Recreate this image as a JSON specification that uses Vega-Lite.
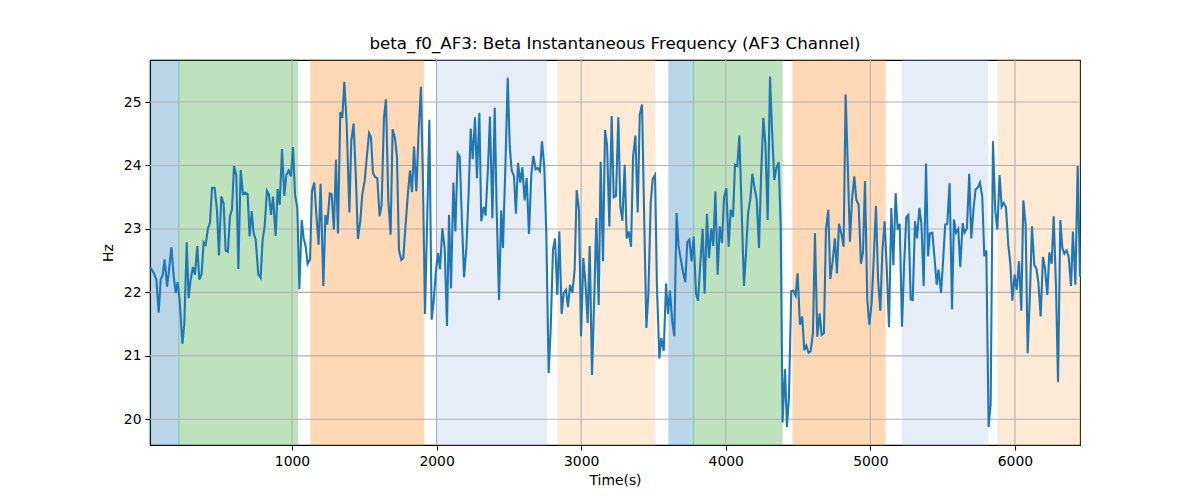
{
  "$schema": "https://vega.github.io/schema/vega-lite/v6.json",
  "width": 930,
  "height": 385,
  "autosize": {"type": "none"},
  "padding": {"left": 150, "top": 60, "right": 120, "bottom": 55},
  "background": "white",
  "title": {"text": "beta_f0_AF3: Beta Instantaneous Frequency (AF3 Channel)", "fontSize": 16.7, "font": "DejaVu Sans", "fontWeight": "normal", "color": "black", "offset": 7, "anchor": "middle"},
  "config": {
    "font": "DejaVu Sans",
    "view": {"stroke": "black", "strokeWidth": 1.1},
    "axis": {"grid": false, "tickColor": "black", "tickSize": 5, "tickWidth": 1.1, "domainColor": "black", "domainWidth": 1.1, "labelFontSize": 13.9, "labelColor": "black", "labelPadding": 4, "titleFontSize": 13.9, "titleFontWeight": "normal", "titleColor": "black", "labelFont": "DejaVu Sans", "titleFont": "DejaVu Sans"}
  },
  "datasets": {
    "bands": [
      {"s": 18, "e": 218, "k": "b"},
      {"s": 218, "e": 1039, "k": "g"},
      {"s": 1131, "e": 1910, "k": "o"},
      {"s": 1998, "e": 2761, "k": "lb"},
      {"s": 2840, "e": 3510, "k": "lo"},
      {"s": 3607, "e": 3778, "k": "b"},
      {"s": 3778, "e": 4389, "k": "g"},
      {"s": 4465, "e": 5101, "k": "o"},
      {"s": 5223, "e": 5811, "k": "lb"},
      {"s": 5883, "e": 6450, "k": "lo"}
    ],
    "xgrid": [{"v": 1000}, {"v": 2000}, {"v": 3000}, {"v": 4000}, {"v": 5000}, {"v": 6000}],
    "ygrid": [{"v": 20}, {"v": 21}, {"v": 22}, {"v": 23}, {"v": 24}, {"v": 25}],
    "line": [
      {"t":18,"hz":22.40},{"t":46,"hz":22.30},{"t":62,"hz":22.20},{"t":78,"hz":21.68},{"t":92,"hz":22.20},{"t":106,"hz":22.28},{"t":119,"hz":22.52},{"t":136,"hz":22.09},{"t":152,"hz":22.41},{"t":166,"hz":22.71},{"t":182,"hz":22.25},{"t":196,"hz":21.99},{"t":209,"hz":22.16},{"t":223,"hz":21.88},{"t":242,"hz":21.19},{"t":255,"hz":21.49},{"t":272,"hz":22.79},{"t":285,"hz":21.91},{"t":299,"hz":22.20},{"t":315,"hz":22.40},{"t":329,"hz":22.28},{"t":345,"hz":22.73},{"t":359,"hz":22.20},{"t":375,"hz":22.29},{"t":389,"hz":22.79},{"t":403,"hz":22.75},{"t":419,"hz":23.01},{"t":433,"hz":23.10},{"t":447,"hz":23.65},{"t":465,"hz":23.65},{"t":481,"hz":23.30},{"t":495,"hz":22.58},{"t":511,"hz":23.51},{"t":527,"hz":23.40},{"t":541,"hz":22.66},{"t":557,"hz":22.64},{"t":571,"hz":23.20},{"t":585,"hz":23.31},{"t":599,"hz":23.99},{"t":615,"hz":23.85},{"t":629,"hz":22.37},{"t":645,"hz":23.93},{"t":661,"hz":23.55},{"t":677,"hz":23.57},{"t":693,"hz":23.55},{"t":707,"hz":22.88},{"t":721,"hz":23.28},{"t":735,"hz":22.93},{"t":749,"hz":22.83},{"t":767,"hz":22.28},{"t":783,"hz":22.23},{"t":797,"hz":22.83},{"t":811,"hz":23.04},{"t":827,"hz":23.60},
      {"t":841,"hz":23.54},{"t":855,"hz":23.22},{"t":869,"hz":23.51},{"t":887,"hz":22.89},{"t":901,"hz":23.63},{"t":915,"hz":23.38},{"t":931,"hz":24.26},{"t":947,"hz":23.52},{"t":961,"hz":23.85},{"t":977,"hz":23.92},{"t":993,"hz":23.83},{"t":1007,"hz":24.29},{"t":1021,"hz":23.54},{"t":1037,"hz":23.33},{"t":1051,"hz":22.05},{"t":1067,"hz":23.14},{"t":1081,"hz":22.85},{"t":1095,"hz":22.72},{"t":1108,"hz":22.45},{"t":1125,"hz":22.52},{"t":1138,"hz":23.59},{"t":1154,"hz":23.73},{"t":1171,"hz":23.14},{"t":1184,"hz":22.75},{"t":1198,"hz":23.71},{"t":1217,"hz":22.10},{"t":1231,"hz":23.22},{"t":1244,"hz":23.07},{"t":1261,"hz":23.56},{"t":1274,"hz":23.55},{"t":1290,"hz":22.99},{"t":1304,"hz":24.09},{"t":1318,"hz":22.93},{"t":1334,"hz":24.84},{"t":1348,"hz":24.75},{"t":1362,"hz":25.32},{"t":1378,"hz":24.67},{"t":1397,"hz":23.26},{"t":1410,"hz":24.38},{"t":1426,"hz":24.66},{"t":1443,"hz":23.75},{"t":1456,"hz":22.84},{"t":1473,"hz":23.14},{"t":1486,"hz":23.54},{"t":1503,"hz":23.76},{"t":1516,"hz":24.09},{"t":1533,"hz":24.51},{"t":1546,"hz":24.45},{"t":1560,"hz":23.88},{"t":1574,"hz":23.82},{"t":1590,"hz":23.80},{"t":1606,"hz":23.20},{"t":1620,"hz":23.38},{"t":1636,"hz":24.75},
      {"t":1650,"hz":25.04},{"t":1666,"hz":23.46},{"t":1682,"hz":22.91},{"t":1696,"hz":24.57},{"t":1712,"hz":24.43},{"t":1726,"hz":24.14},{"t":1740,"hz":22.67},{"t":1756,"hz":22.51},{"t":1770,"hz":22.54},{"t":1786,"hz":23.07},{"t":1800,"hz":23.51},{"t":1816,"hz":23.92},{"t":1830,"hz":23.58},{"t":1844,"hz":24.30},{"t":1860,"hz":23.59},{"t":1876,"hz":24.54},{"t":1892,"hz":25.24},{"t":1906,"hz":23.72},{"t":1920,"hz":21.66},{"t":1936,"hz":23.25},{"t":1950,"hz":24.72},{"t":1966,"hz":21.57},{"t":1980,"hz":21.86},{"t":1994,"hz":22.30},{"t":2010,"hz":22.62},{"t":2024,"hz":22.37},{"t":2040,"hz":23.01},{"t":2056,"hz":22.70},{"t":2072,"hz":21.47},{"t":2086,"hz":23.22},{"t":2100,"hz":22.06},{"t":2116,"hz":23.73},{"t":2130,"hz":22.96},{"t":2146,"hz":24.19},{"t":2160,"hz":24.14},{"t":2176,"hz":23.09},{"t":2190,"hz":22.24},{"t":2206,"hz":22.70},{"t":2222,"hz":23.58},{"t":2236,"hz":24.58},{"t":2250,"hz":24.10},{"t":2266,"hz":24.76},{"t":2279,"hz":23.80},{"t":2296,"hz":24.83},{"t":2309,"hz":23.12},{"t":2326,"hz":23.35},{"t":2339,"hz":23.21},{"t":2356,"hz":23.99},{"t":2369,"hz":24.77},{"t":2386,"hz":23.17},{"t":2402,"hz":24.91},{"t":2415,"hz":23.35},{"t":2432,"hz":21.88},{"t":2447,"hz":23.29},
      {"t":2459,"hz":22.70},{"t":2476,"hz":23.99},{"t":2492,"hz":25.38},{"t":2506,"hz":24.30},{"t":2519,"hz":23.93},{"t":2535,"hz":23.83},{"t":2549,"hz":23.24},{"t":2563,"hz":24.04},{"t":2579,"hz":23.73},{"t":2593,"hz":23.97},{"t":2609,"hz":23.45},{"t":2623,"hz":23.80},{"t":2639,"hz":22.92},{"t":2655,"hz":23.85},{"t":2669,"hz":24.15},{"t":2685,"hz":23.94},{"t":2699,"hz":23.96},{"t":2715,"hz":23.91},{"t":2729,"hz":24.38},{"t":2745,"hz":23.97},{"t":2759,"hz":22.93},{"t":2775,"hz":20.73},{"t":2789,"hz":21.41},{"t":2805,"hz":22.67},{"t":2819,"hz":22.85},{"t":2835,"hz":21.96},{"t":2849,"hz":22.96},{"t":2865,"hz":21.66},{"t":2879,"hz":21.99},{"t":2895,"hz":22.04},{"t":2909,"hz":21.77},{"t":2923,"hz":22.12},{"t":2939,"hz":21.99},{"t":2955,"hz":22.36},{"t":2969,"hz":23.61},{"t":2985,"hz":23.30},{"t":2999,"hz":21.31},{"t":3015,"hz":22.54},{"t":3029,"hz":22.17},{"t":3045,"hz":21.52},{"t":3059,"hz":22.73},{"t":3075,"hz":20.70},{"t":3091,"hz":21.96},{"t":3105,"hz":23.17},{"t":3121,"hz":21.80},{"t":3135,"hz":24.06},{"t":3151,"hz":22.49},{"t":3165,"hz":24.56},{"t":3179,"hz":24.33},{"t":3195,"hz":23.04},{"t":3211,"hz":24.78},{"t":3225,"hz":23.50},{"t":3241,"hz":23.52},{"t":3257,"hz":24.76},
      {"t":3271,"hz":23.35},{"t":3285,"hz":23.13},{"t":3301,"hz":24.01},{"t":3315,"hz":22.85},{"t":3329,"hz":22.96},{"t":3345,"hz":22.72},{"t":3359,"hz":24.14},{"t":3375,"hz":24.47},{"t":3391,"hz":23.26},{"t":3405,"hz":24.80},{"t":3421,"hz":24.96},{"t":3437,"hz":23.04},{"t":3451,"hz":21.44},{"t":3465,"hz":21.99},{"t":3481,"hz":23.41},{"t":3495,"hz":23.79},{"t":3511,"hz":23.85},{"t":3524,"hz":22.09},{"t":3541,"hz":20.96},{"t":3554,"hz":21.28},{"t":3571,"hz":21.08},{"t":3587,"hz":22.14},{"t":3601,"hz":21.66},{"t":3614,"hz":22.03},{"t":3630,"hz":21.54},{"t":3644,"hz":21.31},{"t":3660,"hz":23.25},{"t":3674,"hz":22.72},{"t":3690,"hz":22.51},{"t":3704,"hz":22.33},{"t":3720,"hz":22.16},{"t":3734,"hz":22.79},{"t":3748,"hz":22.83},{"t":3764,"hz":22.49},{"t":3778,"hz":22.88},{"t":3794,"hz":21.99},{"t":3808,"hz":21.87},{"t":3824,"hz":22.46},{"t":3840,"hz":23.00},{"t":3854,"hz":21.98},{"t":3870,"hz":23.24},{"t":3884,"hz":22.54},{"t":3900,"hz":23.01},{"t":3914,"hz":22.73},{"t":3928,"hz":23.59},{"t":3944,"hz":22.28},{"t":3958,"hz":23.04},{"t":3974,"hz":22.78},{"t":3988,"hz":23.49},{"t":4004,"hz":23.64},{"t":4020,"hz":22.72},{"t":4034,"hz":23.30},{"t":4050,"hz":23.19},{"t":4064,"hz":24.01},{"t":4080,"hz":23.99},
      {"t":4094,"hz":24.47},{"t":4110,"hz":23.30},{"t":4126,"hz":22.10},{"t":4140,"hz":22.62},{"t":4154,"hz":23.24},{"t":4170,"hz":23.47},{"t":4184,"hz":23.87},{"t":4200,"hz":23.64},{"t":4214,"hz":23.46},{"t":4230,"hz":22.70},{"t":4244,"hz":23.83},{"t":4260,"hz":24.75},{"t":4274,"hz":24.35},{"t":4290,"hz":23.14},{"t":4306,"hz":25.40},{"t":4320,"hz":24.56},{"t":4336,"hz":23.77},{"t":4350,"hz":23.96},{"t":4366,"hz":24.05},{"t":4380,"hz":23.04},{"t":4393,"hz":19.95},{"t":4410,"hz":20.79},{"t":4423,"hz":19.88},{"t":4437,"hz":20.35},{"t":4453,"hz":22.02},{"t":4467,"hz":22.03},{"t":4483,"hz":21.95},{"t":4497,"hz":22.30},{"t":4513,"hz":21.49},{"t":4529,"hz":21.62},{"t":4543,"hz":21.09},{"t":4557,"hz":21.16},{"t":4573,"hz":21.05},{"t":4587,"hz":21.07},{"t":4603,"hz":21.36},{"t":4617,"hz":22.93},{"t":4633,"hz":21.30},{"t":4649,"hz":21.67},{"t":4663,"hz":21.33},{"t":4679,"hz":21.36},{"t":4693,"hz":22.99},{"t":4709,"hz":23.30},{"t":4723,"hz":22.21},{"t":4739,"hz":22.49},{"t":4755,"hz":22.85},{"t":4769,"hz":22.30},{"t":4783,"hz":23.08},{"t":4799,"hz":22.93},{"t":4815,"hz":22.72},{"t":4829,"hz":25.12},{"t":4845,"hz":23.91},{"t":4859,"hz":22.80},{"t":4873,"hz":23.46},{"t":4889,"hz":23.83},
      {"t":4903,"hz":23.46},{"t":4919,"hz":23.38},{"t":4935,"hz":22.45},{"t":4949,"hz":22.63},{"t":4963,"hz":23.75},{"t":4979,"hz":21.88},{"t":4993,"hz":21.49},{"t":5009,"hz":21.83},{"t":5023,"hz":22.51},{"t":5039,"hz":23.36},{"t":5053,"hz":22.22},{"t":5069,"hz":21.71},{"t":5083,"hz":22.64},{"t":5099,"hz":23.12},{"t":5113,"hz":22.41},{"t":5129,"hz":21.45},{"t":5145,"hz":23.33},{"t":5159,"hz":22.43},{"t":5175,"hz":23.56},{"t":5189,"hz":22.99},{"t":5203,"hz":23.08},{"t":5219,"hz":21.46},{"t":5233,"hz":22.41},{"t":5249,"hz":23.19},{"t":5263,"hz":23.22},{"t":5279,"hz":21.89},{"t":5293,"hz":21.88},{"t":5309,"hz":23.12},{"t":5323,"hz":22.85},{"t":5339,"hz":23.33},{"t":5353,"hz":23.09},{"t":5369,"hz":22.10},{"t":5385,"hz":24.03},{"t":5399,"hz":22.57},{"t":5412,"hz":22.93},{"t":5429,"hz":22.94},{"t":5445,"hz":22.51},{"t":5459,"hz":22.12},{"t":5472,"hz":22.36},{"t":5489,"hz":21.99},{"t":5502,"hz":22.46},{"t":5518,"hz":23.07},{"t":5532,"hz":23.08},{"t":5548,"hz":23.72},{"t":5565,"hz":21.74},{"t":5578,"hz":23.15},{"t":5592,"hz":22.94},{"t":5608,"hz":23.00},{"t":5622,"hz":22.40},{"t":5638,"hz":23.09},{"t":5652,"hz":22.94},{"t":5668,"hz":23.01},{"t":5684,"hz":23.87},{"t":5698,"hz":22.85},
      {"t":5715,"hz":23.35},{"t":5728,"hz":23.62},{"t":5745,"hz":23.66},{"t":5758,"hz":23.73},{"t":5774,"hz":23.51},{"t":5788,"hz":22.57},{"t":5802,"hz":22.66},{"t":5818,"hz":19.88},{"t":5832,"hz":20.23},{"t":5848,"hz":24.38},{"t":5864,"hz":23.29},{"t":5878,"hz":22.99},{"t":5894,"hz":23.85},{"t":5908,"hz":23.35},{"t":5922,"hz":23.41},{"t":5938,"hz":23.34},{"t":5954,"hz":22.75},{"t":5968,"hz":22.46},{"t":5982,"hz":21.87},{"t":5998,"hz":22.28},{"t":6012,"hz":22.04},{"t":6028,"hz":22.49},{"t":6044,"hz":21.71},{"t":6058,"hz":23.45},{"t":6074,"hz":23.07},{"t":6088,"hz":21.04},{"t":6104,"hz":21.99},{"t":6118,"hz":23.04},{"t":6134,"hz":22.43},{"t":6148,"hz":22.38},{"t":6162,"hz":22.16},{"t":6178,"hz":21.62},{"t":6194,"hz":22.56},{"t":6208,"hz":22.38},{"t":6224,"hz":21.96},{"t":6238,"hz":22.63},{"t":6254,"hz":22.45},{"t":6268,"hz":23.20},{"t":6284,"hz":22.09},{"t":6298,"hz":20.59},{"t":6314,"hz":23.14},{"t":6328,"hz":22.70},{"t":6342,"hz":22.61},{"t":6358,"hz":22.66},{"t":6371,"hz":22.57},{"t":6388,"hz":22.10},{"t":6401,"hz":22.96},{"t":6418,"hz":22.12},{"t":6434,"hz":23.99},{"t":6450,"hz":22.25}
    ]
  },
  "layer": [
    {
      "data": {"name": "bands"},
      "mark": {"type": "rect", "opacity": 0.3, "strokeWidth": 1.2},
      "encoding": {
        "x": {"field": "s", "type": "quantitative", "scale": {"domain": [18, 6450], "nice": false, "zero": false}, "axis": {"title": "Time(s)", "values": [1000, 2000, 3000, 4000, 5000, 6000], "format": "d", "titlePadding": 6}},
        "x2": {"field": "e"},
        "color": {"field": "k", "type": "nominal", "scale": {"domain": ["b", "g", "o", "lb", "lo"], "range": ["#1f77b4", "#2ca02c", "#ff7f0e", "#aec7e8", "#ffbb78"]}, "legend": null},
        "stroke": {"field": "k", "type": "nominal", "scale": {"domain": ["b", "g", "o", "lb", "lo"], "range": ["#1f77b4", "#2ca02c", "#ff7f0e", "#aec7e8", "#ffbb78"]}, "legend": null}
      }
    },
    {
      "data": {"name": "xgrid"},
      "mark": {"type": "rule", "color": "#b0b0b0", "strokeWidth": 1.1},
      "encoding": {"x": {"field": "v", "type": "quantitative"}}
    },
    {
      "data": {"name": "ygrid"},
      "mark": {"type": "rule", "color": "#b0b0b0", "strokeWidth": 1.1},
      "encoding": {"y": {"field": "v", "type": "quantitative"}}
    },
    {
      "data": {"name": "line"},
      "mark": {"type": "line", "color": "#1f77b4", "strokeWidth": 2.1},
      "encoding": {
        "x": {"field": "t", "type": "quantitative", "axis": {"title": "Time(s)", "values": [1000, 2000, 3000, 4000, 5000, 6000], "format": "d", "titlePadding": 6}},
        "y": {"field": "hz", "type": "quantitative", "scale": {"domain": [19.595, 25.662], "nice": false, "zero": false}, "axis": {"title": "Hz", "values": [20, 21, 22, 23, 24, 25], "format": "d", "titlePadding": 8}}
      }
    }
  ]
}
